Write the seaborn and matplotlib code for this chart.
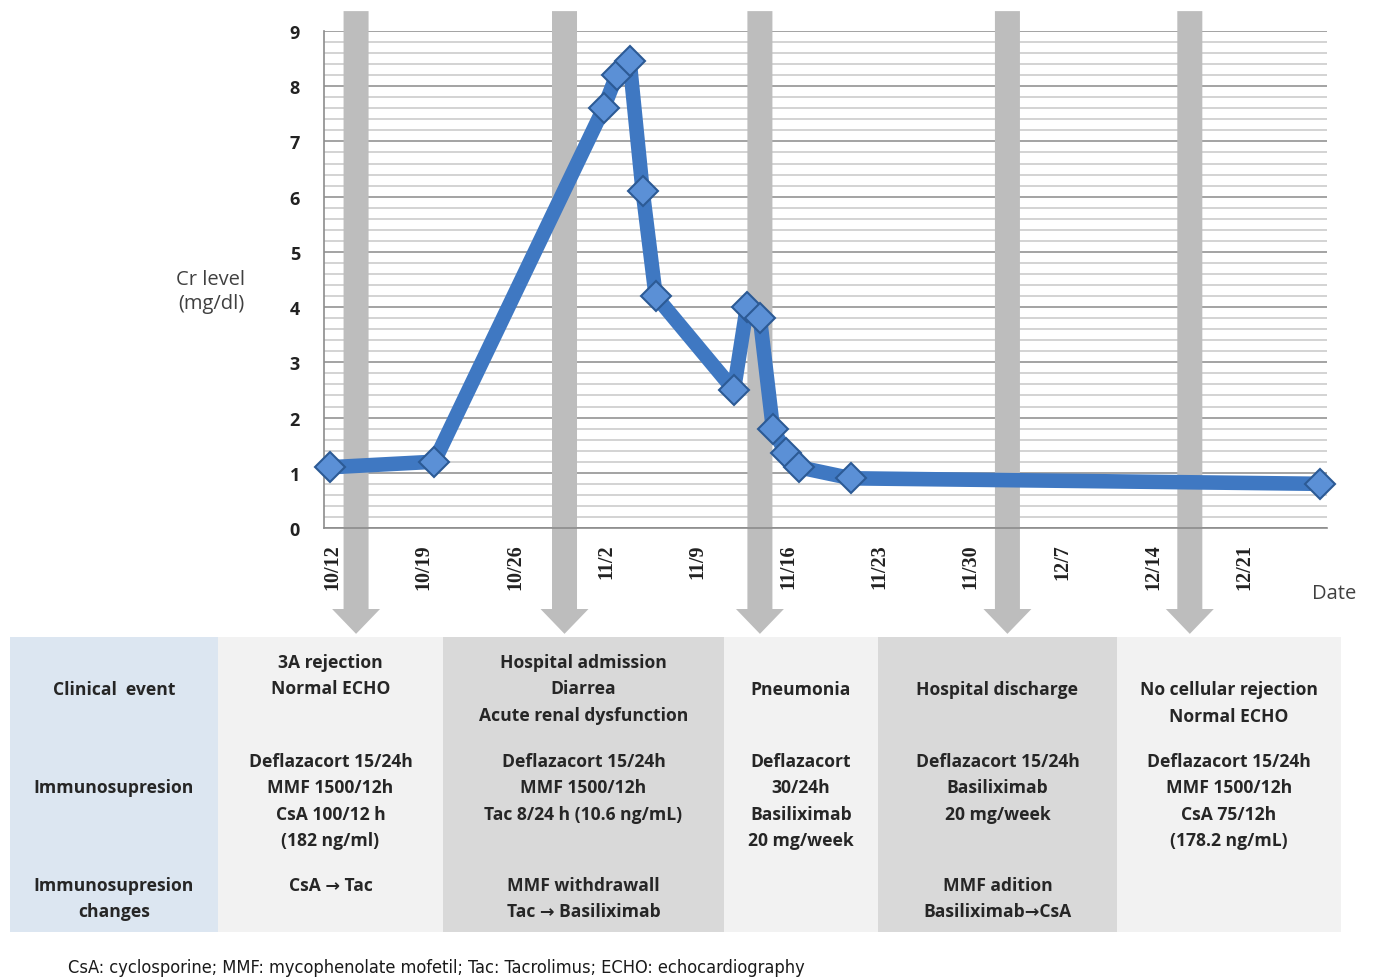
import numpy as np
import pandas as pd
import matplotlib.pyplot as plt
import matplotlib.transforms as mtransforms
from matplotlib.patches import Polygon, Rectangle
from matplotlib.ticker import MultipleLocator
import seaborn as sns

# ============================================================
# DATA
# ============================================================

year = "2011/"

# Cr level readings (mg/dl)
dates = ["10/12", "10/20", "11/2", "11/3", "11/4", "11/5", "11/6", "11/12",
         "11/13", "11/14", "11/15", "11/16", "11/17", "11/21", "12/27"]
cr_level = [1.1, 1.2, 7.6, 8.2, 8.45, 6.1, 4.2, 2.5,
            4.0, 3.8, 1.8, 1.35, 1.1, 0.9, 0.8]

# weekly date ticks
tick_labels = ["10/12", "10/19", "10/26", "11/2", "11/9", "11/16",
               "11/23", "11/30", "12/7", "12/14", "12/21", "12/28"]

# dates of the clinical events (grey arrows)
event_dates = ["10/14", "10/30", "11/14", "12/3", "12/17"]

row_names = ["Clinical  event", "Immunosupresion", "Immunosupresion\nchanges"]

clinical_event = [
    "3A rejection\nNormal ECHO",
    "Hospital admission\nDiarrea\nAcute renal dysfunction",
    "Pneumonia",
    "Hospital discharge",
    "No cellular rejection\nNormal ECHO",
]
immunosupresion = [
    "Deflazacort 15/24h\nMMF 1500/12h\nCsA 100/12 h\n(182 ng/ml)",
    "Deflazacort 15/24h\nMMF 1500/12h\nTac 8/24 h (10.6 ng/mL)",
    "Deflazacort\n30/24h\nBasiliximab\n20 mg/week",
    "Deflazacort 15/24h\nBasiliximab\n20 mg/week",
    "Deflazacort 15/24h\nMMF 1500/12h\nCsA 75/12h\n(178.2 ng/mL)",
]
changes = [
    "CsA \u2192 Tac",
    "MMF withdrawall\nTac \u2192 Basiliximab",
    "",
    "MMF adition\nBasiliximab\u2192CsA",
    "",
]

footnote = ("CsA: cyclosporine; MMF: mycophenolate mofetil; Tac: Tacrolimus; "
            "ECHO: echocardiography")

start = pd.Timestamp(year + dates[0])
day = (pd.to_datetime([year + d for d in dates]) - start).days + 0.5
tick_days = (pd.to_datetime([year + d for d in tick_labels]) - start).days
event_days = (pd.to_datetime([year + d for d in event_dates]) - start).days + 0.5

# ============================================================
# FIGURE
# ============================================================

sns.set_style("white")
plt.rcParams['font.family'] = ['Open Sans', 'DejaVu Sans']

W, H = 1374, 979
fig = plt.figure(figsize=(W / 100, H / 100), dpi=100)


def fx(px):
    return px / W


def fy(py):
    return 1 - py / H


ax = fig.add_axes([fx(323.5), fy(529), fx(1326.6) - fx(323.5), fy(32) - fy(529)])

ax.set_xlim(0, 77)
ax.set_ylim(0, 9)

ax.set_yticks(range(10))
ax.yaxis.set_minor_locator(MultipleLocator(0.2))
ax.grid(which="major", axis="y", color="#A3A3A3", linewidth=1.4, zorder=0)
ax.grid(which="minor", axis="y", color="#D3D3D3", linewidth=1.4, zorder=0)
ax.set_axisbelow(True)

for side in ["top", "right"]:
    ax.spines[side].set_visible(False)
for side in ["left", "bottom"]:
    ax.spines[side].set_color("#8C8C8C")
    ax.spines[side].set_linewidth(1.2)

ax.set_xticks(tick_days)
ax.set_xticklabels(tick_labels[:-1] + [""], rotation=90, family="Liberation Serif",
                   fontweight="bold", fontsize=14.5, color="#222222")
ax.set_yticks(range(10))
ax.set_yticklabels([str(v) for v in range(10)], fontweight="bold",
                   fontsize=13, color="#222222")
ax.tick_params(axis="x", which="major", length=6, color="#8C8C8C", pad=5)
ax.tick_params(axis="y", which="major", length=7, color="#8C8C8C", pad=10)
ax.tick_params(axis="y", which="minor", length=4, color="#AAAAAA", direction="inout")

shift = mtransforms.ScaledTranslation(9 / 100, 0, fig.dpi_scale_trans)
for lab in ax.get_xticklabels():
    lab.set_transform(lab.get_transform() + shift)

# grey event arrows
trans = mtransforms.blended_transform_factory(ax.transData, ax.transAxes)
shaft, head = 0.96, 1.84
for d in event_days:
    pts = [(d - shaft, 1.04), (d + shaft, 1.04), (d + shaft, -0.163),
           (d + head, -0.163), (d, -0.213), (d - head, -0.163), (d - shaft, -0.163)]
    ax.add_patch(Polygon(pts, closed=True, transform=trans, facecolor="#BDBDBD",
                         edgecolor="none", clip_on=False, zorder=1))

# Cr level line
sns.lineplot(x=day, y=cr_level, ax=ax, color="#3F78C2", linewidth=10.5,
             marker="D", markersize=15, markerfacecolor="#5B90D6",
             markeredgecolor="#2C5A95", markeredgewidth=1.5, zorder=4, clip_on=False)
ax.set_xlabel("")
ax.set_ylabel("")

fig.text(fx(211), fy(292), "Cr level\n(mg/dl)", ha="center", va="center",
         fontsize=14.5, color="#404040", linespacing=1.3)
fig.text(fx(1334), fy(594), "Date", ha="center", va="center",
         fontsize=14.5, color="#404040")

# ============================================================
# TABLE
# ============================================================

col_edges = [10, 218, 443, 724, 878, 1117, 1341]
col_colors = ["#DCE6F1", "#F2F2F2", "#D9D9D9", "#F2F2F2", "#D9D9D9", "#F2F2F2"]
top, bottom = 638, 933
for i, c in enumerate(col_colors):
    fig.patches.append(Rectangle((fx(col_edges[i]), fy(bottom)),
                                 fx(col_edges[i + 1]) - fx(col_edges[i]),
                                 fy(top) - fy(bottom), transform=fig.transFigure,
                                 facecolor=c, edgecolor="none", zorder=0))

step = 26.5


def cell_text(x, y0, text):
    for k, line in enumerate(text.split("\n")):
        fig.text(fx(x), fy(y0 + k * step), line, ha="center", va="center_baseline",
                 fontsize=12.6, fontweight="bold", color="#262626")


centers = [(col_edges[i] + col_edges[i + 1]) / 2 for i in range(len(col_edges) - 1)]
row1_top = [661, 661, 688, 688, 688]

cell_text(centers[0], 688, row_names[0])
cell_text(centers[0], 786, row_names[1])
cell_text(centers[0], 884, row_names[2])
for j in range(5):
    cell_text(centers[j + 1], row1_top[j], clinical_event[j])
    cell_text(centers[j + 1], 760, immunosupresion[j])
    if changes[j]:
        cell_text(centers[j + 1], 884, changes[j])

fig.text(fx(68), fy(968), footnote, ha="left", va="center",
         family="DejaVu Sans", fontstretch="condensed", fontsize=13.1,
         color="#1A1A1A")

fig.savefig("out.png", dpi=100)
